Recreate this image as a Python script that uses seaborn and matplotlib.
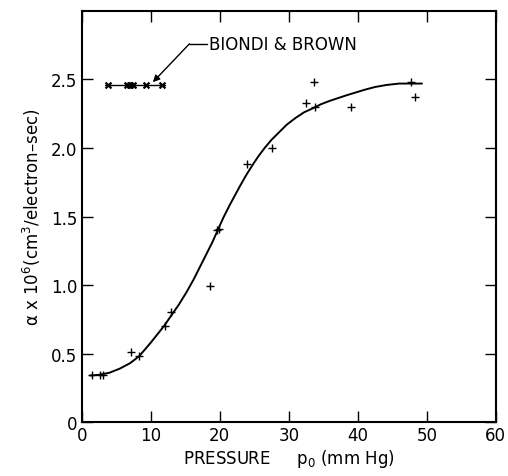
import matplotlib
matplotlib.use("Agg")
import matplotlib.pyplot as plt
import seaborn as sns
import pandas as pd

# measured points (pressure in mm Hg, alpha x 10^6)
meas_p = [1.5, 2.6, 3.1, 7.1, 8.3, 12.0, 12.9, 18.6, 19.6, 19.9, 23.9,
          27.5, 32.5, 33.6, 33.8, 39.0, 47.7, 48.3]
meas_a = [0.34, 0.34, 0.345, 0.51, 0.48, 0.70, 0.80, 0.99, 1.40, 1.41, 1.88,
          2.00, 2.33, 2.48, 2.30, 2.30, 2.48, 2.37]

# smooth curve drawn through the data
curve_p = [1.2, 2.5, 4.0, 5.5, 7.0, 8.3, 10.0, 11.9, 13.0, 14.1, 15.2, 16.2,
           17.1, 18.0, 18.9, 19.7, 20.5, 21.4, 22.9, 23.8, 24.8, 25.6, 26.5,
           27.5, 28.5, 29.7, 31.0, 32.2, 33.5, 34.7, 36.0, 37.2, 38.4, 39.7,
           41.0, 42.5, 44.2, 46.0, 47.5, 49.3]
curve_a = [0.34, 0.345, 0.36, 0.39, 0.43, 0.48, 0.58, 0.70, 0.78, 0.86,
           0.95, 1.04, 1.13, 1.22, 1.31, 1.40, 1.49, 1.58, 1.72, 1.80, 1.88,
           1.94, 2.00, 2.06, 2.11, 2.17, 2.22, 2.26, 2.29, 2.32, 2.345, 2.365,
           2.385, 2.405, 2.425, 2.445, 2.46, 2.47, 2.47, 2.47]

# Biondi & Brown values
bb_p = [3.8, 6.5, 7.0, 7.4, 9.3, 11.6]
bb_a = [2.46, 2.46, 2.46, 2.46, 2.46, 2.46]
bb_line_p = [3.3, 12.0]
bb_line_a = [2.46, 2.46]

x_ticks = [0, 10, 20, 30, 40, 50, 60]
y_ticks = [0, 0.5, 1.0, 1.5, 2.0, 2.5]
y_labels = ["0", "0.5", "1.0", "1.5", "2.0", "2.5"]

sns.set_style("ticks")
plt.rcParams["font.family"] = ["DejaVu Sans"]

fig = plt.figure(figsize=(5.08, 4.77), dpi=100)
ax = fig.add_axes([0.161, 0.113, 0.815, 0.862])

meas = pd.DataFrame({"p": meas_p, "a": meas_a})
curve = pd.DataFrame({"p": curve_p, "a": curve_a})
bb = pd.DataFrame({"p": bb_p, "a": bb_a})

sns.lineplot(data=curve, x="p", y="a", color="black", linewidth=1.4, ax=ax)
sns.scatterplot(data=meas, x="p", y="a", marker="+", color="black",
                s=30, linewidth=1.0, ax=ax)
ax.plot(bb_line_p, bb_line_a, color="black", linewidth=1.0)
sns.scatterplot(data=bb, x="p", y="a", marker="x", color="black",
                s=18, linewidth=1.6, ax=ax)

# leader line + arrow for the label
ax.plot([18.2, 15.6], [2.76, 2.76], color="black", linewidth=1.0)
ax.annotate("", xy=(10.3, 2.48), xytext=(15.6, 2.76),
            arrowprops=dict(arrowstyle="-|>", color="black", lw=1.0,
                            mutation_scale=10, shrinkA=0, shrinkB=0))
ax.text(18.4, 2.76, "BIONDI & BROWN", ha="left", va="center", fontsize=12,
        color="black")

ax.set_xlim(0, 60)
ax.set_ylim(0, 3.0)
ax.set_xticks(x_ticks)
ax.set_yticks(y_ticks)
ax.set_yticklabels(y_labels)
ax.tick_params(direction="in", length=8, width=1.0, top=True, right=True,
               labelsize=12, pad=3, colors="black")
for sp in ax.spines.values():
    sp.set_linewidth(1.5)
    sp.set_color("black")

ax.set_xlabel("PRESSURE     p$_0$ (mm Hg)", fontsize=12, labelpad=2,
              color="black")
ax.set_ylabel("α x 10$^6$(cm$^3$/electron–sec)", fontsize=12, labelpad=6,
              color="black")

fig.savefig("out.png", dpi=100)
